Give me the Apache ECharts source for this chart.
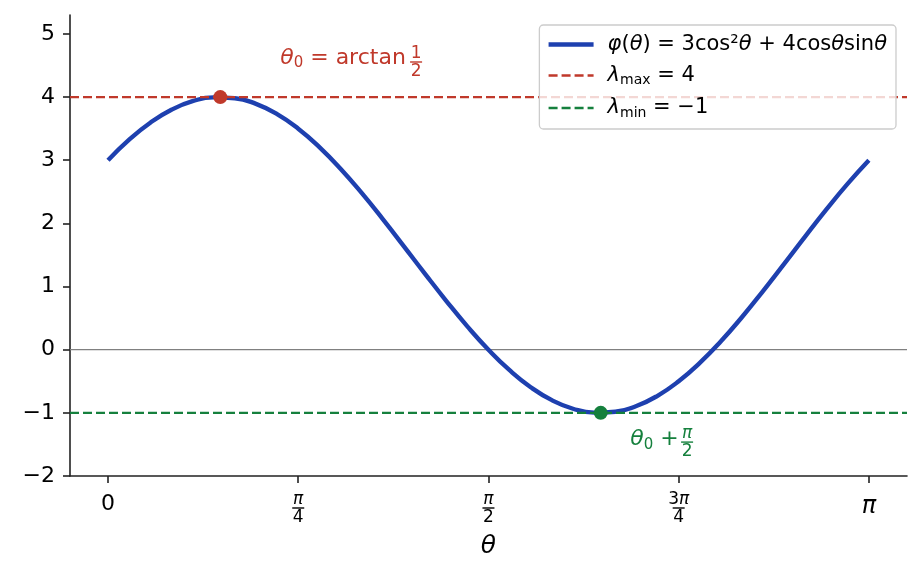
<!DOCTYPE html>
<html>
<head>
<meta charset="utf-8">
<script src="https://cdn.jsdelivr.net/npm/echarts@6/dist/echarts.min.js"></script>
<style>
  html, body { margin: 0; padding: 0; background: #fff; }
  #main { width: 921px; height: 576px; }
</style>
</head>
<body>
<div id="main"></div>
<script>
// θ 采样点（度）与读出的 φ(θ) 值
const thetaDeg = [0, 5, 10, 15, 20, 25, 30, 35, 40, 45, 50, 55, 60, 65, 70, 75, 80, 85, 90,
  95, 100, 105, 110, 115, 120, 125, 130, 135, 140, 145, 150, 155, 160, 165, 170, 175, 180];
const phiValues = [3.000, 3.325, 3.594, 3.799, 3.935, 3.996, 3.982, 3.892, 3.730, 3.500, 3.209,
  2.866, 2.482, 2.068, 1.637, 1.201, 0.775, 0.370, 0.000, -0.325, -0.594, -0.799, -0.935, -0.996,
  -0.982, -0.892, -0.730, -0.500, -0.209, 0.134, 0.518, 0.932, 1.363, 1.799, 2.226, 2.630, 3.000];

// 极值
const lambdaMax = 4;
const lambdaMin = -1;
const extremaTheta = [0.4636, 2.0344];
const extremaPhi = [4, -1];

// 坐标轴范围与刻度
const xRange = [-0.157, 3.299];
const yRange = [-2, 5.3];
const xTickValues = [0, Math.PI / 4, Math.PI / 2, 3 * Math.PI / 4, Math.PI];
const xTickNum = ['0', 'π', 'π', '3π', 'π'];
const xTickDen = ['', '4', '2', '4', ''];
const yTickValues = [-2, -1, 0, 1, 2, 3, 4, 5];

// 注释文字位置
const noteX = [0.711, 1.272, 2.156, 2.391];
const noteY = [4.62, 4.54, -1.424, -1.479];

const BLUE = '#1e40af';
const RED = '#c0392b';
const GREEN = '#15803d';
const FONT = 'DejaVu Sans';

const chart = echarts.init(document.getElementById('main'));

const curveData = thetaDeg.map((d, i) => [d * Math.PI / 180, phiValues[i]]);

function fracRich(color) {
  return {
    n: { fontFamily: FONT, fontSize: 17, fontStyle: 'italic', color: color, lineHeight: 13, align: 'center' },
    nd: { fontFamily: FONT, fontSize: 17, color: color, lineHeight: 13, align: 'center' },
    b: { width: 12, height: 1.4, lineHeight: 4, backgroundColor: color, align: 'center' },
    d: { fontFamily: FONT, fontSize: 17, color: color, lineHeight: 15, align: 'center' }
  };
}

const NAME_PHI = 'phi';
const NAME_MAX = 'lmax';
const NAME_MIN = 'lmin';

const legendText = {};
legendText[NAME_PHI] = '{g|}{i|φ}{r|(}{i|θ}{r|) = 3cos²}{i|θ}{r| + 4cos}{i|θ}{r|sin}{i|θ}';
legendText[NAME_MAX] = '{g|}{i|λ}{s|max}{r| = 4}';
legendText[NAME_MIN] = '{g|}{i|λ}{s|min}{r| = −1}';

const option = {
  backgroundColor: '#fff',
  animation: false,
  grid: { left: 70, right: 14, top: 15, bottom: 100, outerBoundsMode: 'none' },
  legend: {
    data: [
      { name: NAME_PHI, lineStyle: { width: 4.4 } },
      { name: NAME_MAX, lineStyle: { width: 2.4 } },
      { name: NAME_MIN, lineStyle: { width: 2.4 } }
    ],
    orient: 'vertical',
    right: 25,
    top: 25,
    padding: [9, 9, 9, 7],
    itemWidth: 45,
    itemHeight: 14,
    itemGap: 10,
    backgroundColor: 'rgba(255,255,255,0.8)',
    borderColor: '#cccccc',
    borderWidth: 1.3,
    borderRadius: 4,
    itemStyle: { color: 'rgba(0,0,0,0)', borderWidth: 0 },
    formatter: name => legendText[name],
    textStyle: {
      rich: {
        g: { width: 9 },
        i: { fontFamily: FONT, fontSize: 21, fontStyle: 'italic', color: '#000', lineHeight: 24 },
        r: { fontFamily: FONT, fontSize: 21, color: '#000', lineHeight: 24 },
        s: { fontFamily: FONT, fontSize: 14, color: '#000', lineHeight: 14, verticalAlign: 'bottom' }
      }
    }
  },
  xAxis: {
    type: 'value',
    min: xRange[0],
    max: xRange[1],
    name: 'θ',
    nameLocation: 'middle',
    nameGap: 58,
    nameTextStyle: { fontFamily: FONT, fontSize: 25, fontStyle: 'italic', color: '#000' },
    splitLine: { show: false },
    axisLine: { show: true, onZero: false, lineStyle: { color: '#222', width: 1.6 } },
    axisTick: { show: true, length: 7, lineStyle: { color: '#222', width: 1.6 }, customValues: xTickValues },
    axisLabel: {
      customValues: xTickValues,
      margin: 17,
      formatter: function (value) {
        let k = 0;
        xTickValues.forEach((v, i) => { if (Math.abs(v - value) < Math.abs(xTickValues[k] - value)) k = i; });
        if (!xTickDen[k]) {
          return xTickNum[k] === 'π' ? '{pi|π}' : '{m|' + xTickNum[k] + '}';
        }
        const num = xTickNum[k] === 'π' ? '{n|π}' : '{nd|3}{n|π}';
        return num + '\n{b| }\n{d|' + xTickDen[k] + '}';
      },
      rich: Object.assign({
        m: { fontFamily: FONT, fontSize: 22, color: '#000', lineHeight: 22 },
        pi: { fontFamily: FONT, fontSize: 24, fontStyle: 'italic', color: '#000', lineHeight: 24, padding: [4, 0, 0, 0] }
      }, fracRich('#000'))
    }
  },
  yAxis: {
    type: 'value',
    min: yRange[0],
    max: yRange[1],
    interval: 1,
    splitLine: { show: false },
    axisLine: { show: true, onZero: false, lineStyle: { color: '#222', width: 1.6 } },
    axisTick: { show: true, length: 7, lineStyle: { color: '#222', width: 1.6 }, customValues: yTickValues },
    axisLabel: {
      customValues: yTickValues,
      margin: 15,
      fontFamily: FONT,
      fontSize: 22,
      color: '#000',
      formatter: v => (v < 0 ? '−' + Math.abs(v) : String(v))
    }
  },
  series: [
    {
      name: 'zero',
      type: 'line',
      symbol: 'none',
      silent: true,
      data: [[xRange[0], 0], [xRange[1], 0]],
      lineStyle: { color: '#808080', width: 1.2 },
      z: 1
    },
    {
      name: NAME_PHI,
      type: 'line',
      symbol: 'none',
      smooth: true,
      data: curveData,
      itemStyle: { color: BLUE },
      lineStyle: { color: BLUE, width: 4.4 },
      z: 2
    },
    {
      name: NAME_MAX,
      type: 'line',
      symbol: 'none',
      data: [[xRange[0], lambdaMax], [xRange[1], lambdaMax]],
      itemStyle: { color: RED },
      lineStyle: { color: RED, width: 2.4, type: [9, 4] },
      z: 3
    },
    {
      name: NAME_MIN,
      type: 'line',
      symbol: 'none',
      data: [[xRange[0], lambdaMin], [xRange[1], lambdaMin]],
      itemStyle: { color: GREEN },
      lineStyle: { color: GREEN, width: 2.4, type: [9, 4] },
      z: 3
    },
    {
      name: 'extrema',
      type: 'scatter',
      symbolSize: 14,
      itemStyle: { opacity: 1 },
      data: [
        { value: [extremaTheta[0], extremaPhi[0]], itemStyle: { color: RED, opacity: 1 } },
        { value: [extremaTheta[1], extremaPhi[1]], itemStyle: { color: GREEN, opacity: 1 } }
      ],
      z: 5
    },
    {
      name: 'notes',
      type: 'scatter',
      symbolSize: 0,
      silent: true,
      itemStyle: { opacity: 1 },
      data: [
        {
          value: [noteX[0], noteY[0]],
          label: {
            show: true, position: 'inside', align: 'left', verticalAlign: 'middle',
            formatter: '{i|θ}{s|0}{r| = arctan}',
            rich: {
              i: { fontFamily: FONT, fontSize: 22, fontStyle: 'italic', color: RED, lineHeight: 26 },
              r: { fontFamily: FONT, fontSize: 22, color: RED, lineHeight: 26 },
              s: { fontFamily: FONT, fontSize: 15, color: RED, lineHeight: 15, verticalAlign: 'bottom' }
            }
          }
        },
        {
          value: [noteX[1], noteY[1]],
          label: {
            show: true, position: 'inside', align: 'center', verticalAlign: 'middle',
            formatter: '{nd|1}\n{b| }\n{d|2}',
            rich: fracRich(RED)
          }
        },
        {
          value: [noteX[2], noteY[2]],
          label: {
            show: true, position: 'inside', align: 'left', verticalAlign: 'middle',
            formatter: '{i|θ}{s|0}{r| + }',
            rich: {
              i: { fontFamily: FONT, fontSize: 22, fontStyle: 'italic', color: GREEN, lineHeight: 26 },
              r: { fontFamily: FONT, fontSize: 22, color: GREEN, lineHeight: 26 },
              s: { fontFamily: FONT, fontSize: 15, color: GREEN, lineHeight: 15, verticalAlign: 'bottom' }
            }
          }
        },
        {
          value: [noteX[3], noteY[3]],
          label: {
            show: true, position: 'inside', align: 'center', verticalAlign: 'middle',
            formatter: '{n|π}\n{b| }\n{d|2}',
            rich: fracRich(GREEN)
          }
        }
      ],
      z: 6
    }
  ]
};

chart.setOption(option);
</script>
</body>
</html>
